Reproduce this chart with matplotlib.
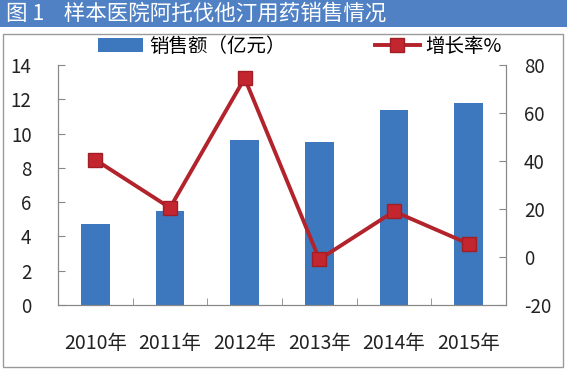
import matplotlib
matplotlib.use("Agg")
import matplotlib.pyplot as plt
from matplotlib.patches import Rectangle
import numpy as np

plt.rcParams['font.family'] = ['Noto Sans CJK SC', 'DejaVu Sans']
plt.rcParams['axes.unicode_minus'] = False

years = ['2010年', '2011年', '2012年', '2013年', '2014年', '2015年']
sales = [4.7, 5.5, 9.6, 9.5, 11.35, 11.8]
growth = [40.5, 20.5, 74.5, -1.0, 19.0, 5.5]
left_ticks = [0, 2, 4, 6, 8, 10, 12, 14]
right_ticks = [-20, 0, 20, 40, 60, 80]
title = '图 1    样本医院阿托伐他汀用药销售情况'

W, H = 567, 372
fig = plt.figure(figsize=(W / 100, H / 100), dpi=100)

# title bar
fig.patches.append(Rectangle((0, 1 - 27 / H), 1, 27 / H, transform=fig.transFigure,
                             facecolor='#4f81c4', edgecolor='none', zorder=0))
fig.text(6 / W, 1 - 14 / H, title, color='white', fontsize=15.5, va='center', ha='left')
# chart border
fig.patches.append(Rectangle((3 / W, 5 / H), 560 / W, (H - 34 - 5) / H, transform=fig.transFigure,
                             facecolor='none', edgecolor='#9a9a9a', linewidth=1.0, zorder=0))

left, right, top, bottom = 58, 506, 65, 305
ax = fig.add_axes([left / W, 1 - bottom / H, (right - left) / W, (bottom - top) / H])
x = np.arange(len(years))
bars = ax.bar(x, sales, width=0.38, color='#3d78be', zorder=2, label='销售额（亿元）')
ax.set_xlim(-0.5, len(years) - 0.5)
ax.set_ylim(0, 14)
ax.set_yticks(left_ticks)
ax.set_xticks(x)
ax.set_xticklabels(years, fontsize=14)
ax.set_xticks(np.arange(-0.5, len(years), 1), minor=True)
ax.tick_params(axis='x', which='major', length=0, pad=20, colors='#222222')
ax.tick_params(axis='x', which='minor', length=5, direction='in', color='#888888')
ax.tick_params(axis='y', length=5, direction='in', color='#888888', labelsize=13.5, pad=19,
               labelcolor='#222222')
ax.spines['top'].set_visible(False)
for s in ['left', 'right', 'bottom']:
    ax.spines[s].set_color('#888888')

ax2 = ax.twinx()
ln, = ax2.plot(x, growth, color='#b2232c', linewidth=2.8, marker='s', markersize=10,
               markerfacecolor='#c3262f', markeredgecolor='#a01f26', zorder=3, label='增长率%')
ax2.set_ylim(-20, 80)
ax2.set_yticks(right_ticks)
ax2.tick_params(axis='y', length=5, direction='in', color='#888888', labelsize=13.5, pad=13,
                labelcolor='#222222')
ax2.spines['top'].set_visible(False)
for s in ['left', 'right', 'bottom']:
    ax2.spines[s].set_color('#888888')

leg = fig.legend([bars, ln], ['销售额（亿元）', '增长率%'], loc='center',
                 bbox_to_anchor=(300 / W, 1 - 46 / H), ncol=2, frameon=False, fontsize=14,
                 handlelength=2.3, columnspacing=4.6, handletextpad=0.3)

fig.savefig('out.png', dpi=100)
